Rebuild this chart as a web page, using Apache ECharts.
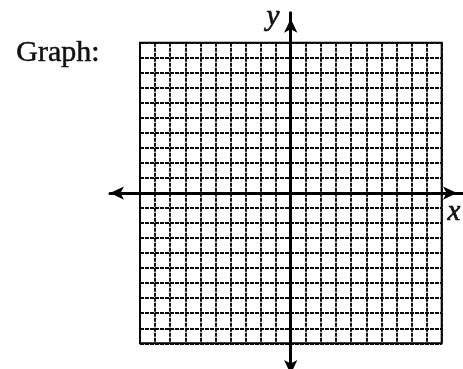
<!DOCTYPE html>
<html>
<head>
<meta charset="utf-8">
<script src="https://cdn.jsdelivr.net/npm/echarts@6/dist/echarts.min.js"></script>
<style>
  html, body { margin: 0; padding: 0; background: #fff; }
  #chart { width: 463px; height: 369px; }
</style>
</head>
<body>
<div id="chart"></div>
<script>
// blank coordinate grid, -10..10 on both axes
const gridRange = [-10, 10]
const xAxisExtent = [-11.98, 11.42]
const yAxisExtent = [-11.64, 12]
const axisNames = ['x', 'y']
const titleText = 'Graph:'

const chart = echarts.init(document.getElementById('chart'))

const gridLine = { color: '#0a0a0a', width: 1.9, type: [4, 1] }

const option = {
  backgroundColor: '#fff',
  animation: false,
  grid: [
    { left: 140, top: 42.7, width: 301.7, height: 300.6, show: true, borderColor: '#000', borderWidth: 2 },
    { left: 110, top: 12.7, width: 353, height: 355.3 }
  ],
  xAxis: [
    {
      type: 'value', gridIndex: 0, min: gridRange[0], max: gridRange[1], interval: 1,
      axisLine: { show: false }, axisTick: { show: false }, axisLabel: { show: false },
      splitLine: { show: true, lineStyle: gridLine }
    },
    {
      type: 'value', gridIndex: 1, min: xAxisExtent[0], max: xAxisExtent[1],
      axisLine: {
        show: true, onZero: true, symbol: ['arrow', 'arrow'], symbolSize: [10, 14],
        symbolOffset: [0, -6],
        lineStyle: { color: '#000', width: 3 }
      },
      axisTick: { show: false }, axisLabel: { show: false }, splitLine: { show: false }
    }
  ],
  yAxis: [
    {
      type: 'value', gridIndex: 0, min: gridRange[0], max: gridRange[1], interval: 1,
      axisLine: { show: false }, axisTick: { show: false }, axisLabel: { show: false },
      splitLine: { show: true, lineStyle: gridLine }
    },
    {
      type: 'value', gridIndex: 1, min: yAxisExtent[0], max: yAxisExtent[1],
      axisLine: {
        show: true, onZero: true, symbol: ['arrow', 'arrow'], symbolSize: [10, 14],
        symbolOffset: [-6, -6],
        lineStyle: { color: '#000', width: 3 }
      },
      axisTick: { show: false }, axisLabel: { show: false }, splitLine: { show: false }
    }
  ],
  graphic: [
    {
      type: 'text', left: 16, top: 38,
      style: { text: titleText, font: '30px "Liberation Serif", serif', fill: '#111', stroke: '#111', lineWidth: 0.5 }
    },
    {
      type: 'text', x: 454, y: 212,
      style: { text: axisNames[0], font: 'italic 29px "Liberation Serif", serif', fill: '#111', stroke: '#111', lineWidth: 0.7, align: 'center', verticalAlign: 'middle' }
    },
    {
      type: 'text', x: 273, y: 17,
      style: { text: axisNames[1], font: 'italic 29px "Liberation Serif", serif', fill: '#111', stroke: '#111', lineWidth: 0.7, align: 'center', verticalAlign: 'middle' }
    }
  ],
  series: [
    { type: 'line', xAxisIndex: 0, yAxisIndex: 0, data: [] },
    { type: 'line', xAxisIndex: 1, yAxisIndex: 1, data: [] }
  ]
}

chart.setOption(option)
</script>
</body>
</html>
